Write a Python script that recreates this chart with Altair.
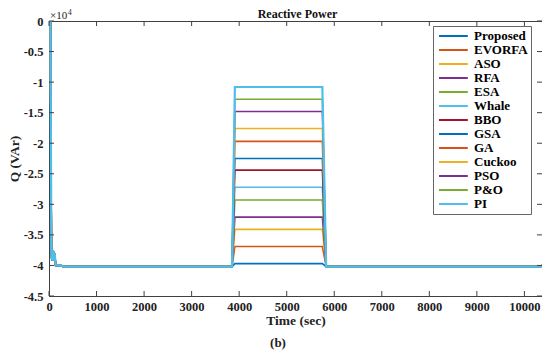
import altair as alt
import pandas as pd

series = ["Proposed", "EVORFA", "ASO", "RFA", "ESA", "Whale", "BBO",
          "GSA", "GA", "Cuckoo", "PSO", "P&O", "PI"]
colors = ["#0072BD", "#D95319", "#EDB120", "#7E2F8E", "#77AC30", "#4DBEEE", "#A2142F",
          "#0072BD", "#D95319", "#EDB120", "#7E2F8E", "#77AC30", "#4DBEEE"]
# pulse plateau levels (x 1e4 VAr)
pulse_levels = [-3.97, -3.69, -3.41, -3.21, -2.93, -2.72, -2.44,
                -2.25, -1.97, -1.76, -1.48, -1.28, -1.08]
# common start-up transient
start_t = [0, 30, 50, 60, 75, 90, 105, 120, 140, 260, 300]
start_q = [0, 0, -3.75, -3.92, -3.76, -3.77, -3.92, -3.80, -4.0, -4.0, -4.02]
base_q = -4.02
pulse_t = [3850, 3910, 5750, 5830, 10340, 10370]

x_ticks = list(range(0, 10001, 1000))
y_ticks = [0, -0.5, -1, -1.5, -2, -2.5, -3, -3.5, -4, -4.5]

rows = []
for s, lev in zip(series, pulse_levels):
    ts = start_t + pulse_t
    qs = start_q + [base_q, lev, lev, base_q, base_q, -4.0]
    for t, q in zip(ts, qs):
        rows.append({"series": s, "t": t, "q": q})
df = pd.DataFrame(rows)

W, H = 493, 275
font = "Liberation Serif"
axis_col = "#404040"
txt_col = "#222222"

x_scale = alt.Scale(domain=[0, 10370], nice=False, zero=False)
y_scale = alt.Scale(domain=[-4.5, 0], nice=False, zero=False)

x_axis = alt.Axis(values=x_ticks, title="Time (sec)", labelExpr="'' + datum.value",
                  ticks=False, grid=False, labelFlush=False, labelOverlap=False,
                  labelFont=font, labelFontWeight="bold", labelFontSize=12.5,
                  labelColor=txt_col, titleFont=font, titleFontSize=13.5,
                  titleFontWeight="bold", titleColor=txt_col, domainColor=axis_col,
                  labelPadding=4, titleY=17)
y_axis = alt.Axis(values=y_ticks, title="Q (VAr)",
                  labelExpr="datum.value == 0 ? '0' : '' + datum.value",
                  ticks=False, grid=False, labelFlush=False, labelOverlap=False,
                  labelFont=font, labelFontWeight="bold", labelFontSize=12.5,
                  labelColor=txt_col, titleFont=font, titleFontSize=13.5,
                  titleFontWeight="bold", titleColor=txt_col, domainColor=axis_col,
                  labelPadding=6, titleX=-28)

legend = alt.Legend(title=None, orient="none", legendX=384, legendY=5,
                    symbolType="M-1,0L3.8,0", symbolSize=144, symbolStrokeWidth=2,
                    symbolOffset=2,
                    labelFont=font, labelFontSize=13, labelFontWeight="bold",
                    labelColor="black", strokeColor="#666666", fillColor="white",
                    padding=3, rowPadding=0, labelOffset=22, labelLimit=200)

color = alt.Color("series:N", scale=alt.Scale(domain=series, range=colors), legend=legend)
X = alt.X("t:Q", scale=x_scale, axis=x_axis)
Y = alt.Y("q:Q", scale=y_scale, axis=y_axis)

layers = []
for s in series:
    sw = 2.2 if s == "PI" else 1.6
    layers.append(
        alt.Chart(df).transform_filter(alt.datum.series == s)
        .mark_line(strokeWidth=sw, clip=True)
        .encode(x=X, y=Y, color=color)
    )

xt = pd.DataFrame({"t": x_ticks})
yt = pd.DataFrame({"q": y_ticks})
tick_len = 5
bottom_ticks = alt.Chart(xt).mark_rule(color=axis_col).encode(
    x=X, y=alt.value(H), y2=alt.value(H - tick_len))
top_ticks = alt.Chart(xt).mark_rule(color=axis_col).encode(
    x=X, y=alt.value(0), y2=alt.value(tick_len))
left_ticks = alt.Chart(yt).mark_rule(color=axis_col).encode(
    y=Y, x=alt.value(0), x2=alt.value(tick_len))
right_ticks = alt.Chart(yt).mark_rule(color=axis_col).encode(
    y=Y, x=alt.value(W), x2=alt.value(W - tick_len))

one = pd.DataFrame({"a": [1]})
title_txt = alt.Chart(one).mark_text(font=font, fontSize=12, fontWeight="bold",
                                     align="center", baseline="alphabetic",
                                     color="#111111").encode(
    x=alt.value(W / 2 + 2), y=alt.value(-3), text=alt.value("Reactive Power"))
exp_base = alt.Chart(one).mark_text(font=font, fontSize=11, align="left",
                                    baseline="alphabetic", color=txt_col).encode(
    x=alt.value(1), y=alt.value(-2), text=alt.value("×10"))
exp_sup = alt.Chart(one).mark_text(font=font, fontSize=7.5, align="left",
                                   baseline="alphabetic", color=txt_col).encode(
    x=alt.value(19), y=alt.value(-6), text=alt.value("4"))
sub_label = alt.Chart(one).mark_text(font=font, fontSize=13, fontWeight="bold",
                                     align="center", baseline="middle",
                                     color=txt_col).encode(
    x=alt.value(229), y=alt.value(322), text=alt.value("(b)"))

chart = alt.layer(*layers, bottom_ticks, top_ticks, left_ticks, right_ticks,
                  title_txt, exp_base, exp_sup, sub_label).properties(
    width=W, height=H,
    autosize=alt.AutoSizeParams(type="none"),
    padding={"left": 41, "top": 13, "right": 0, "bottom": 60},
).configure_view(stroke=axis_col, strokeWidth=1)

chart.save("out.html", embed_options={"renderer": "svg", "actions": False})
